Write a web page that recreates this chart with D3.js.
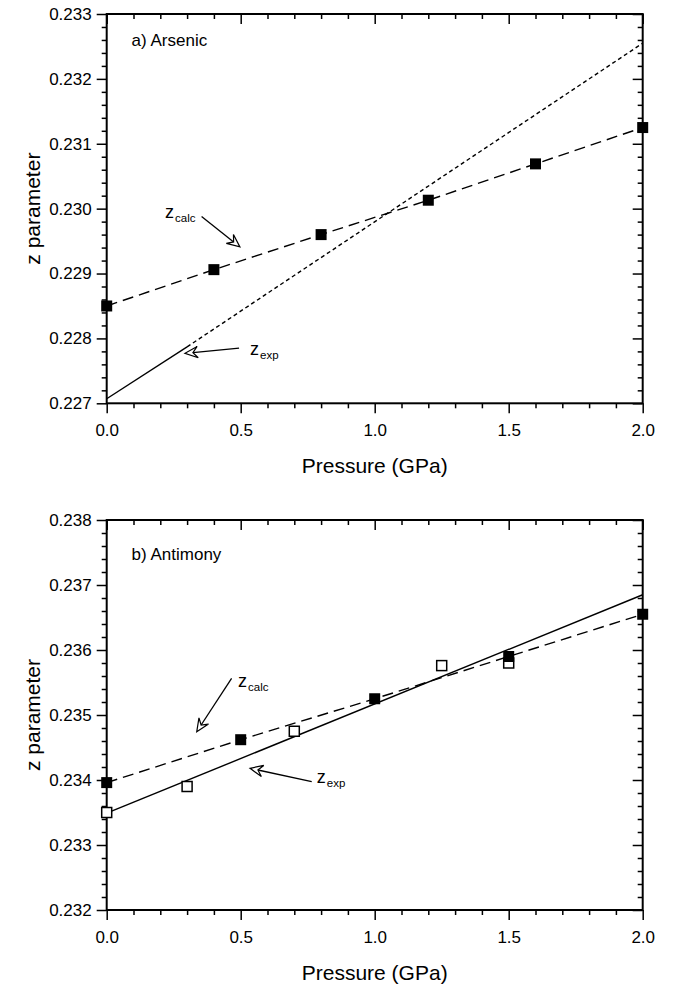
<!DOCTYPE html>
<meta charset="utf-8">
<title>z parameter vs pressure</title>
<script src="https://d3js.org/d3.v7.min.js"></script>
<style>
  body { margin: 0; background: #fff; }
  text { font-family: "Liberation Sans", Arial, Helvetica, sans-serif; fill: #000; }
</style>
<div id="chart"></div>
<script>

// ---- data ----
// a) Arsenic
var asPressure = [0, 0.4, 0.8, 1.2, 1.6, 2.0];
var asCalc     = [0.22850, 0.22906, 0.22960, 0.23013, 0.23069, 0.23125];
var asFitP     = [0, 0.3, 2.0];            // experimental fit: solid up to 0.3, dotted after
var asFitZ     = [0.22707, 0.22787, 0.23255];

// b) Antimony
var sbPressure = [0, 0.5, 1.0, 1.5, 2.0];
var sbCalc     = [0.23396, 0.23462, 0.23525, 0.23590, 0.23655];
var sbExpP     = [0, 0.3, 0.7, 1.25, 1.5];
var sbExpZ     = [0.23350, 0.23390, 0.23475, 0.23576, 0.23580];
var sbFitP     = [0, 2.0];
var sbFitZ     = [0.23349, 0.23685];

var xTicks = [0, 0.5, 1.0, 1.5, 2.0];
var asYTicks = [0.227, 0.228, 0.229, 0.230, 0.231, 0.232, 0.233];
var sbYTicks = [0.232, 0.233, 0.234, 0.235, 0.236, 0.237, 0.238];

var W = 673, H = 985;
var left = 106.7, right = 642.7;

var svg = d3.select("#chart").append("svg")
  .attr("width", W)
  .attr("height", H);

// open arrow, shaft from (x1,y1) to the tip (x2,y2)
function arrow(g, x1, y1, x2, y2) {
  var a = Math.atan2(y2 - y1, x2 - x1);
  var len = 14, spread = 0.42;
  var b1 = [x2 - len * Math.cos(a - spread), y2 - len * Math.sin(a - spread)];
  var b2 = [x2 - len * Math.cos(a + spread), y2 - len * Math.sin(a + spread)];
  var n = [x2 - 8 * Math.cos(a), y2 - 8 * Math.sin(a)];
  g.append("line")
    .attr("x1", x1).attr("y1", y1).attr("x2", n[0]).attr("y2", n[1])
    .attr("stroke", "#000").attr("stroke-width", 1.3);
  g.append("path")
    .attr("d", "M" + b1 + "L" + [x2, y2] + "L" + b2 + "L" + n + "Z")
    .attr("fill", "#fff").attr("stroke", "#000").attr("stroke-width", 1.2)
    .attr("stroke-linejoin", "miter");
}

function subLabel(g, x, y, sub) {
  var t = g.append("text").attr("x", x).attr("y", y).style("font-size", "18px");
  t.append("tspan").text("z");
  t.append("tspan").attr("dy", 4).attr("dx", 1).style("font-size", "11.5px").text(sub);
}

function panel(cfg) {
  var g = svg.append("g");
  var x = d3.scaleLinear().domain([0, 2]).range([left, right]);
  var y = d3.scaleLinear().domain(cfg.yDomain).range([cfg.bottom, cfg.top]);

  var xMinor = d3.range(0, 21).map(function(i) { return i / 10; })
    .filter(function(d, i) { return i % 5 !== 0; });
  var yMinor = d3.range(0, 31).map(function(i) { return cfg.yDomain[0] + i * 0.0002; })
    .filter(function(d, i) { return i % 5 !== 0; });

  function style(sel) {
    sel.select(".domain").remove();
    sel.selectAll("line").attr("stroke", "#000").attr("stroke-width", 1.5);
    sel.selectAll("text").style("font-size", "17px").attr("fill", "#000");
  }

  // bottom and left: outward ticks with labels
  g.append("g").attr("transform", "translate(0," + cfg.bottom + ")")
    .call(d3.axisBottom(x).tickValues(xTicks).tickSize(10).tickPadding(11).tickFormat(d3.format(".1f")))
    .call(style);
  g.append("g").attr("transform", "translate(0," + cfg.bottom + ")")
    .call(d3.axisBottom(x).tickValues(xMinor).tickSize(5).tickFormat(""))
    .call(style);
  g.append("g").attr("transform", "translate(" + left + ",0)")
    .call(d3.axisLeft(y).tickValues(cfg.yTicks).tickSize(10).tickPadding(5).tickFormat(d3.format(".3f")))
    .call(style);
  g.append("g").attr("transform", "translate(" + left + ",0)")
    .call(d3.axisLeft(y).tickValues(yMinor).tickSize(5).tickFormat(""))
    .call(style);

  // top and right: inward ticks, no labels
  g.append("g").attr("transform", "translate(0," + cfg.top + ")")
    .call(d3.axisBottom(x).tickValues(xTicks).tickSize(10).tickFormat(""))
    .call(style);
  g.append("g").attr("transform", "translate(0," + cfg.top + ")")
    .call(d3.axisBottom(x).tickValues(xMinor).tickSize(5).tickFormat(""))
    .call(style);
  g.append("g").attr("transform", "translate(" + right + ",0)")
    .call(d3.axisLeft(y).tickValues(cfg.yTicks).tickSize(10).tickFormat(""))
    .call(style);
  g.append("g").attr("transform", "translate(" + right + ",0)")
    .call(d3.axisLeft(y).tickValues(yMinor).tickSize(5).tickFormat(""))
    .call(style);

  // frame
  g.append("rect")
    .attr("x", left).attr("y", cfg.top)
    .attr("width", right - left).attr("height", cfg.bottom - cfg.top)
    .attr("fill", "none").attr("stroke", "#000").attr("stroke-width", 2);

  // axis titles
  g.append("text")
    .attr("x", (left + right) / 2).attr("y", cfg.bottom + 70)
    .attr("text-anchor", "middle").style("font-size", "21px")
    .text("Pressure (GPa)");
  g.append("text")
    .attr("transform", "translate(40," + ((cfg.top + cfg.bottom) / 2) + ") rotate(-90)")
    .attr("text-anchor", "middle").style("font-size", "21px")
    .text("z parameter");

  g.append("text")
    .attr("x", x(cfg.title[0])).attr("y", y(cfg.title[1]))
    .style("font-size", "17px")
    .text(cfg.title[2]);

  var line = d3.line().x(function(d) { return x(d[0]); }).y(function(d) { return y(d[1]); });

  // experimental fit lines
  cfg.fits.forEach(function(f) {
    g.append("path")
      .datum(f.pts)
      .attr("d", line)
      .attr("fill", "none").attr("stroke", "#000").attr("stroke-width", 1.4)
      .attr("stroke-dasharray", f.dash);
  });

  // calculated dashed line
  var calcPts = d3.zip(cfg.calcP, cfg.calcZ);
  g.append("path")
    .datum(calcPts)
    .attr("d", line)
    .attr("fill", "none").attr("stroke", "#000").attr("stroke-width", 1.4)
    .attr("stroke-dasharray", "11,6");

  // open squares (experiment)
  if (cfg.expP) {
    g.selectAll(".exp").data(d3.zip(cfg.expP, cfg.expZ)).enter()
      .append("rect").attr("class", "exp")
      .attr("x", function(d) { return x(d[0]) - 5; })
      .attr("y", function(d) { return y(d[1]) - 5; })
      .attr("width", 10).attr("height", 10)
      .attr("fill", "#fff").attr("stroke", "#000").attr("stroke-width", 1.5);
  }

  // filled squares (calc)
  g.selectAll(".calc").data(calcPts).enter()
    .append("rect").attr("class", "calc")
    .attr("x", function(d) { return x(d[0]) - 5.5; })
    .attr("y", function(d) { return y(d[1]) - 5.5; })
    .attr("width", 11).attr("height", 11)
    .attr("fill", "#000");

  // annotations
  var a = cfg.notes;
  subLabel(g, x(a.calc.label[0]), y(a.calc.label[1]), "calc");
  arrow(g, x(a.calc.from[0]), y(a.calc.from[1]), x(a.calc.to[0]), y(a.calc.to[1]));
  subLabel(g, x(a.exp.label[0]), y(a.exp.label[1]), "exp");
  arrow(g, x(a.exp.from[0]), y(a.exp.from[1]), x(a.exp.to[0]), y(a.exp.to[1]));
}

panel({
  top: 14, bottom: 403.3,
  yDomain: [0.227, 0.233], yTicks: asYTicks,
  title: [0.093, 0.23250, "a) Arsenic"],
  calcP: asPressure, calcZ: asCalc,
  fits: [
    { pts: d3.zip(asFitP.slice(0, 2), asFitZ.slice(0, 2)), dash: null },
    { pts: d3.zip(asFitP.slice(1), asFitZ.slice(1)), dash: "4,3" }
  ],
  notes: {
    calc: { label: [0.2175, 0.22985], from: [0.354, 0.22988], to: [0.497, 0.22941] },
    exp:  { label: [0.535, 0.22774], from: [0.494, 0.22785], to: [0.292, 0.22777] }
  }
});

panel({
  top: 520, bottom: 910,
  yDomain: [0.232, 0.238], yTicks: sbYTicks,
  title: [0.093, 0.237385, "b) Antimony"],
  calcP: sbPressure, calcZ: sbCalc,
  expP: sbExpP, expZ: sbExpZ,
  fits: [
    { pts: d3.zip(sbFitP, sbFitZ), dash: null }
  ],
  notes: {
    calc: { label: [0.49, 0.235435], from: [0.466, 0.235565], to: [0.336, 0.234743] },
    exp:  { label: [0.784, 0.233954], from: [0.765, 0.233974], to: [0.535, 0.234180] }
  }
});

</script>
